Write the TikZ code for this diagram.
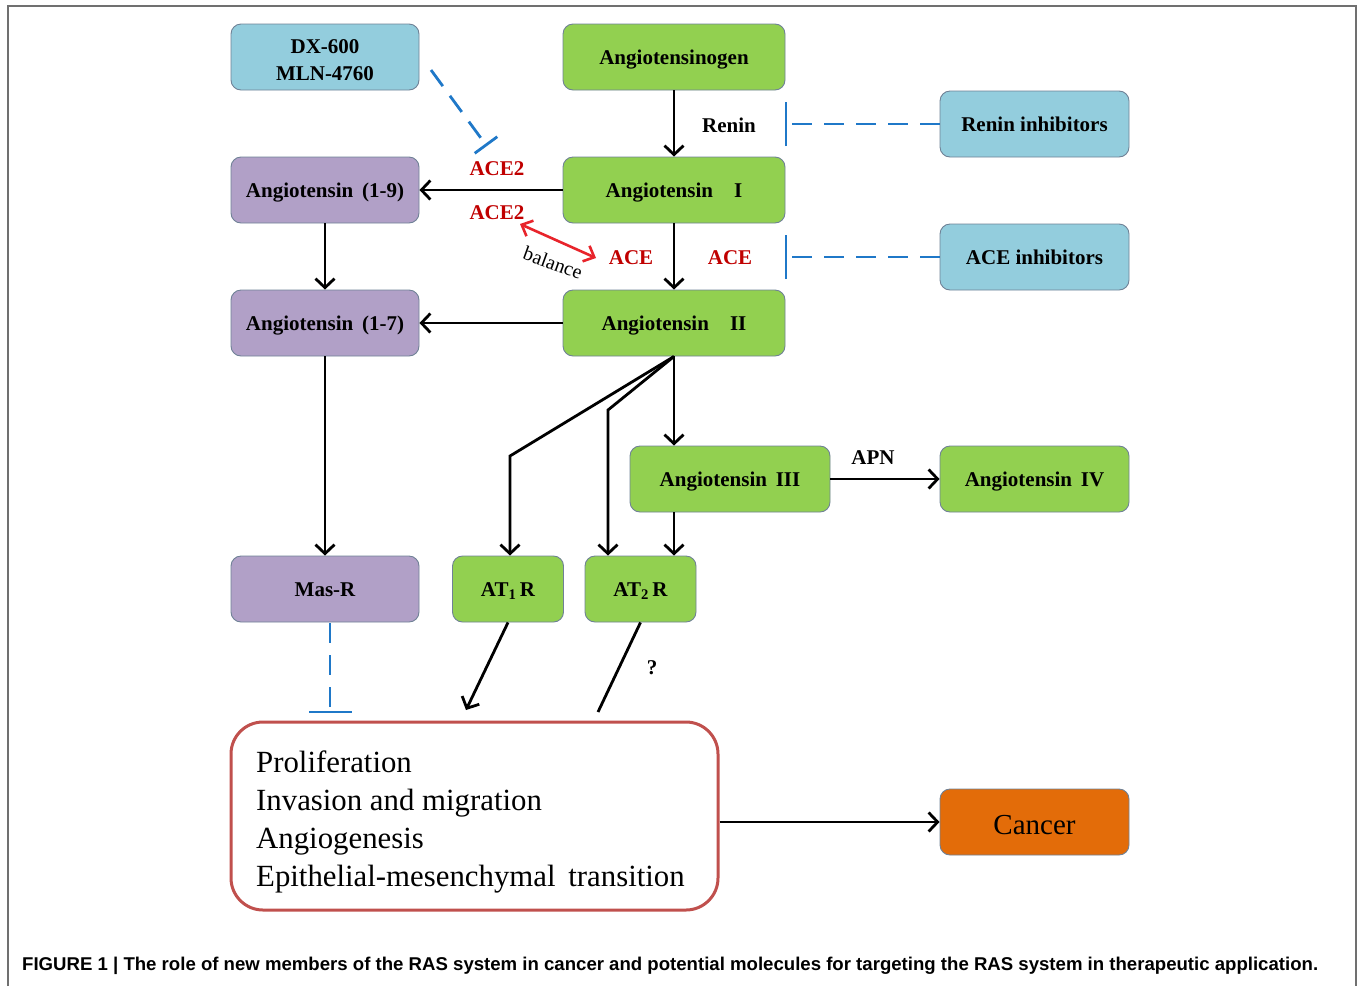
\documentclass[tikz,border=0pt]{standalone}
\usepackage{fontspec}
\setmainfont{Liberation Serif}
\newfontfamily\capfont{Liberation Sans}
\usetikzlibrary{arrows.meta,calc}
\definecolor{gfill}{HTML}{92D050}
\definecolor{bfill}{HTML}{93CDDD}
\definecolor{pfill}{HTML}{B1A0C7}
\definecolor{ofill}{HTML}{E36C09}
\definecolor{edgec}{HTML}{6F8196}
\definecolor{inhc}{HTML}{1F78C8}
\definecolor{redbox}{HTML}{C0504D}
\definecolor{redtxt}{HTML}{C00000}
\definecolor{redarr}{HTML}{E8242B}
\definecolor{framec}{HTML}{707070}
\tikzset{
  box/.style={draw=edgec, line width=0.9pt, rounded corners=10pt, minimum height=66pt,
    inner sep=0pt, font=\bfseries\fontsize{21}{27}\selectfont, align=center},
  one/.style={text height=18pt, text depth=3pt},
  gbox/.style={box, fill=gfill},
  bbox/.style={box, fill=bfill},
  pbox/.style={box, fill=pfill},
  arr/.style={draw=black, line width=2.8pt, -{Straight Barb[length=9pt,width=19pt]}},
  plain/.style={draw=black, line width=2.8pt},
  inh/.style={draw=inhc, line width=2.8pt, dash pattern=on 20pt off 12pt},
  barl/.style={draw=inhc, line width=2.8pt},
  redlbl/.style={text=redtxt, inner sep=1pt, font=\bfseries\fontsize{21}{23}\selectfont},
  lbl/.style={text=black, inner sep=1pt, font=\bfseries\fontsize{21}{23}\selectfont},
}
\begin{document}
\begin{tikzpicture}[x=1pt,y=-1pt]
\useasboundingbox (0,0) rectangle (1360,986);
\draw[framec, line width=2pt] (8,986) -- (8,6) -- (1356,6) -- (1356,986);

% nodes
\node[bbox, minimum width=188pt] (dx) at (325,57) {\rule{0pt}{19.5pt}DX-600\\MLN-4760};
\node[gbox, one, minimum width=222pt] (ag) at (674,57) {Angiotensinogen};
\node[bbox, one, minimum width=189pt] (ri) at (1034.5,124) {Renin inhibitors};
\node[gbox, one, minimum width=222pt] (a1) at (674,190) {Angiotensin\quad I};
\node[pbox, one, minimum width=188pt] (a19) at (325,190) {Angiotensin\, (1-9)};
\node[bbox, one, minimum width=189pt] (ai) at (1034.5,257) {ACE inhibitors};
\node[gbox, one, minimum width=222pt] (a2) at (674,323) {Angiotensin\quad II};
\node[pbox, one, minimum width=188pt] (a17) at (325,323) {Angiotensin\, (1-7)};
\node[gbox, one, minimum width=200pt] (a3) at (730,479) {Angiotensin\, III};
\node[gbox, one, minimum width=189pt] (a4) at (1034.5,479) {Angiotensin\, IV};
\node[pbox, one, minimum width=188pt] (mas) at (325,589) {Mas-R};
\node[gbox, one, minimum width=111pt] (at1) at (508,589) {AT\textsubscript{1}\,R};
\node[gbox, one, minimum width=111pt] (at2) at (640.5,589) {AT\textsubscript{2}\,R};
\node[draw=redbox, line width=3pt, rounded corners=32pt, minimum width=487pt, minimum height=188pt,
  inner sep=0pt] (eff) at (474.5,816) {};
\node[anchor=west, align=left, inner sep=0pt, font=\fontsize{30.8}{38}\selectfont] (efft) at (256,822)
  {Proliferation\\Invasion and migration\\Angiogenesis\\Epithelial-mesenchymal\, transition};
\node[box, fill=ofill, minimum width=189pt, text height=27pt, text depth=1.4pt,
  font=\fontsize{29}{32}\selectfont] (can) at (1034.5,822) {Cancer};

% labels
\node[lbl] (renin) at (729,125) {Renin};
\node[redlbl] (ace2a) at (497,169) {ACE2};
\node[redlbl] (ace2b) at (497,213) {ACE2};
\node[redlbl] (acel) at (631,258) {ACE};
\node[redlbl] (acer) at (730,258) {ACE};
\node[font=\fontsize{20}{23}\selectfont, inner sep=0pt, rotate=-20] (bal) at (553,263) {balance};
\node[lbl] (apn) at (873,458) {APN};
\node[lbl] (qm) at (652,668) {?};

% coordinates
\coordinate (k1) at (510,456);
\coordinate (k2) at (608,410);
\coordinate (e1) at (466,710);
\coordinate (e2) at (598,712);
\coordinate (b1) at (520,224);
\coordinate (b2) at (596,258);
\coordinate (d1) at (431,70);
\coordinate (d2) at (486,145);
\coordinate (rb) at (786,124);
\coordinate (ab) at (786,257);
\coordinate (m1) at (330,623);
\coordinate (m2) at (330,712);

% main connectors
\draw[arr] (ag.south) -- (a1.north);
\draw[arr] (a1.south) -- (a2.north);
\draw[arr] (a1.west) -- (a19.east);
\draw[arr] (a2.west) -- (a17.east);
\draw[arr] (a19.south) -- (a17.north);
\draw[arr] (a17.south) -- (mas.north);
\draw[arr] (a2.south) -- (a2.south |- a3.north);
\draw[arr] (a2.south) -- (k1) -- (k1 |- at1.north);
\draw[arr] (a2.south) -- (k2) -- (k2 |- at2.north);
\draw[arr] (a3.south -| a2.south) -- (at2.north -| a2.south);
\draw[arr] (a3.east) -- (a4.west);
\draw[arr] (at1.south) -- (e1);
\draw[plain] (at2.south) -- (e2);
\draw[arr] (eff.east |- can.west) -- (can.west);

% balance
\draw[draw=redarr, line width=2.6pt, {Straight Barb[length=9pt,width=17pt]}-{Straight Barb[length=9pt,width=17pt]}] (b1) -- (b2);

% inhibitions
\draw[inh] (ri.west) -- (rb);
\draw[barl] ([yshift=-22pt]rb) -- ([yshift=22pt]rb);
\draw[inh] (ai.west) -- (ab);
\draw[barl] ([yshift=-22pt]ab) -- ([yshift=22pt]ab);
\draw[inh] (d1) -- (d2);
\draw[barl] ($(d2)!14pt!90:(d1)$) -- ($(d2)!14pt!-90:(d1)$);
\draw[inh] (m1) -- (m2);
\draw[barl] ([xshift=-21pt]m2) -- ([xshift=22pt]m2);

% caption
\node[anchor=west, inner sep=0pt] (cap) at (22,966)
  {\resizebox{1296pt}{\height}{\capfont\bfseries\fontsize{18.5}{20}\selectfont FIGURE 1 | The role of new members of the RAS system in cancer and potential molecules for targeting the RAS system in therapeutic application.}};
\end{tikzpicture}
\end{document}
